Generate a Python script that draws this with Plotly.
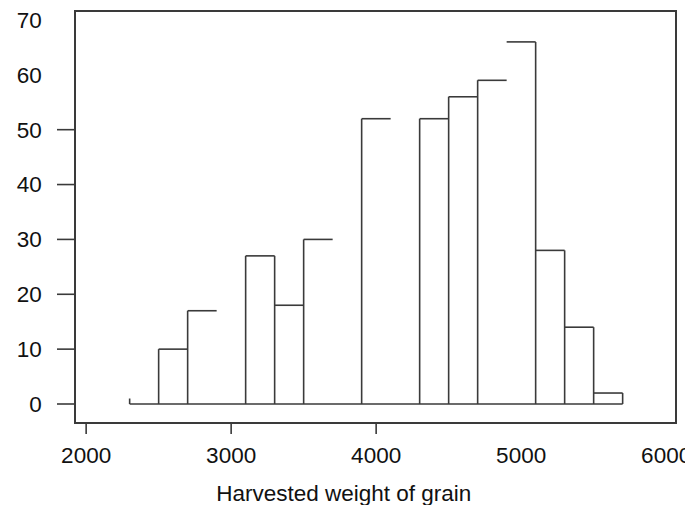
import plotly.graph_objects as go

# ---- data ----
bin_edges = [2300, 2500, 2700, 2900, 3100, 3300, 3500, 3700, 3900, 4100,
             4300, 4500, 4700, 4900, 5100, 5300, 5500, 5700]
counts = [1, 10, 17, 0, 27, 18, 30, 0, 52, 0, 52, 56, 59, 66, 28, 14, 2]
x_tick_labels = [2000, 3000, 4000, 5000, 6000]
x_ticks_marked = [2000, 3000, 4000]
y_tick_labels = [0, 10, 20, 30, 40, 50, 60, 70]
y_ticks_marked = [0, 10, 20, 30, 40, 50]
x_title = "Harvested weight of grain"

# edges in the reference whose vertical stroke is not visible, bins without top
open_edges = [2900, 3700, 4100, 4900]
bins_without_top = [0]

LINE = "#3a3a3a"
FONT = dict(family="Liberation Sans, Arial, sans-serif", size=22.5, color="#111")

xs, ys = [], []
# baseline
xs += [bin_edges[0], bin_edges[-1], None]
ys += [0, 0, None]
# tops
for i, c in enumerate(counts):
    if c > 0 and i not in bins_without_top:
        xs += [bin_edges[i], bin_edges[i + 1], None]
        ys += [c, c, None]
# verticals
for j, e in enumerate(bin_edges):
    left = counts[j - 1] if j > 0 else 0
    right = counts[j] if j < len(counts) else 0
    h = max(left, right)
    if h > 0 and e not in open_edges:
        xs += [e, e, None]
        ys += [0, h, None]

fig = go.Figure()
fig.add_trace(go.Scatter(x=xs, y=ys, mode="lines",
                         line=dict(color=LINE, width=1.6),
                         hoverinfo="skip", showlegend=False))

shapes = []
for v in x_ticks_marked:
    shapes.append(dict(type="line", xref="x", yref="paper", ysizemode="pixel",
                       yanchor=0, x0=v, x1=v, y0=0, y1=-12,
                       line=dict(color=LINE, width=1.6)))
for v in y_ticks_marked:
    shapes.append(dict(type="line", yref="y", xref="paper", xsizemode="pixel",
                       xanchor=0, y0=v, y1=v, x0=0, x1=-19,
                       line=dict(color=LINE, width=1.6)))

# the page body adds an 8px offset, so the figure is sized to fit the window
fig.update_layout(
    width=693, height=497,
    margin=dict(l=68, r=26, t=4, b=83, autoexpand=False),
    paper_bgcolor="white", plot_bgcolor="white",
    font=FONT,
    shapes=shapes,
    title=dict(text=x_title, xref="paper", x=0.447, xanchor="center",
               yref="container", y=0.024, yanchor="middle", font=FONT,
               automargin=False),
    xaxis=dict(range=[1930, 6061], tickvals=x_tick_labels, ticks="",
               showline=True, mirror=True, linecolor=LINE, linewidth=1.6,
               showgrid=False, zeroline=False, ticklabelstandoff=12,
               ticklabeloverflow="allow", automargin=False),
    yaxis=dict(range=[-3.28, 71.45], tickvals=y_tick_labels, ticks="",
               showline=True, mirror=True, linecolor=LINE, linewidth=1.6,
               showgrid=False, zeroline=False, ticklabelstandoff=28,
               ticklabeloverflow="allow", automargin=False),
)

fig.write_html("out.html")
